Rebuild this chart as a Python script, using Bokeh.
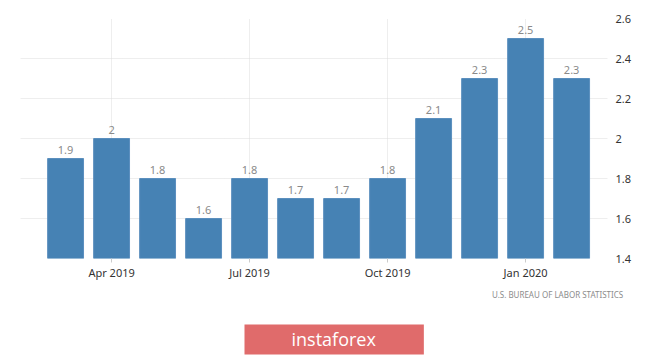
from bokeh.plotting import figure
from bokeh.models import ColumnDataSource, FixedTicker, NumeralTickFormatter, Title, Range1d
from bokeh.embed import file_html
from bokeh.resources import INLINE

# data
months = ["Mar 2019", "Apr 2019", "May 2019", "Jun 2019", "Jul 2019", "Aug 2019",
          "Sep 2019", "Oct 2019", "Nov 2019", "Dec 2019", "Jan 2020", "Feb 2020"]
values = [1.9, 2.0, 1.8, 1.6, 1.8, 1.7, 1.7, 1.8, 2.1, 2.3, 2.5, 2.3]
value_labels = ["1.9", "2", "1.8", "1.6", "1.8", "1.7", "1.7", "1.8", "2.1", "2.3", "2.5", "2.3"]
x_tick_months = ["Apr 2019", "Jul 2019", "Oct 2019", "Jan 2020"]
y_ticks = [1.4, 1.6, 1.8, 2.0, 2.2, 2.4, 2.6]

xs = list(range(len(months)))
src = ColumnDataSource(dict(x=xs, top=values, label=value_labels))

p = figure(width=665, height=356, output_backend="svg", toolbar_location=None,
           x_range=Range1d(-0.98, 11.78), y_range=Range1d(1.4, 2.6),
           y_axis_location="right",
           min_border_left=20, min_border_right=58, min_border_top=18, min_border_bottom=98)
p.outline_line_color = None
p.background_fill_color = "white"
p.border_fill_color = "white"

p.vbar(x="x", top="top", bottom=1.4, width=0.78, source=src,
       fill_color="#4682b4", line_color="#5b8fbe", line_width=1)

p.text(x="x", y="top", text="label", source=src, text_align="center",
       text_baseline="bottom", y_offset=-5, text_color="#8a8a8a",
       text_font_size="11px", text_font={"value": "Noto Sans"})

# x axis
xt = [months.index(m) for m in x_tick_months]
p.xaxis.ticker = FixedTicker(ticks=xt)
p.xaxis.major_label_overrides = {i: months[i] for i in xt}
p.xaxis.axis_line_color = None
p.xaxis.major_tick_in = 0
p.xaxis.major_tick_out = 4
p.xaxis.major_tick_line_color = "#cccccc"
p.xaxis.minor_tick_line_color = None
p.xaxis.major_label_standoff = 2
p.xaxis.major_label_text_font = "Noto Sans"
p.xaxis.major_label_text_font_size = "11px"
p.xaxis.major_label_text_color = "#333333"

# y axis
p.yaxis.ticker = FixedTicker(ticks=y_ticks)
p.yaxis.formatter = NumeralTickFormatter(format="0.[0]")
p.yaxis.axis_line_color = None
p.yaxis.major_tick_line_color = None
p.yaxis.minor_tick_line_color = None
p.yaxis.major_label_standoff = 2
p.yaxis.major_label_text_font = "Noto Sans"
p.yaxis.major_label_text_font_size = "11px"
p.yaxis.major_label_text_color = "#333333"

p.xgrid.grid_line_color = "#dddddd"
p.xgrid.grid_line_dash = "1 1"
p.ygrid.grid_line_color = "#dddddd"
p.ygrid.grid_line_dash = "1 1"

src_title = Title(text="U.S.  BUREAU  OF  LABOR  STATISTICS", align="right", offset=-24,
                  standoff=9, text_font="Noto Sans", text_font_size="8px",
                  text_font_style="normal", text_color="#8c8c8c")
p.add_layout(src_title, "below")

spacer = Title(text=" ", standoff=17, text_font_size="1px")
p.add_layout(spacer, "below")

logo = Title(text="instaforex", align="left", offset=224, standoff=0,
             vertical_align="top",
             text_font="Open Sans", text_font_size="18px", text_font_style="normal",
             text_color="white", background_fill_color="#e06b6b",
             padding=(47, 48, 2, 4))
p.add_layout(logo, "below")

open("out.html", "w").write(file_html(p, INLINE))
